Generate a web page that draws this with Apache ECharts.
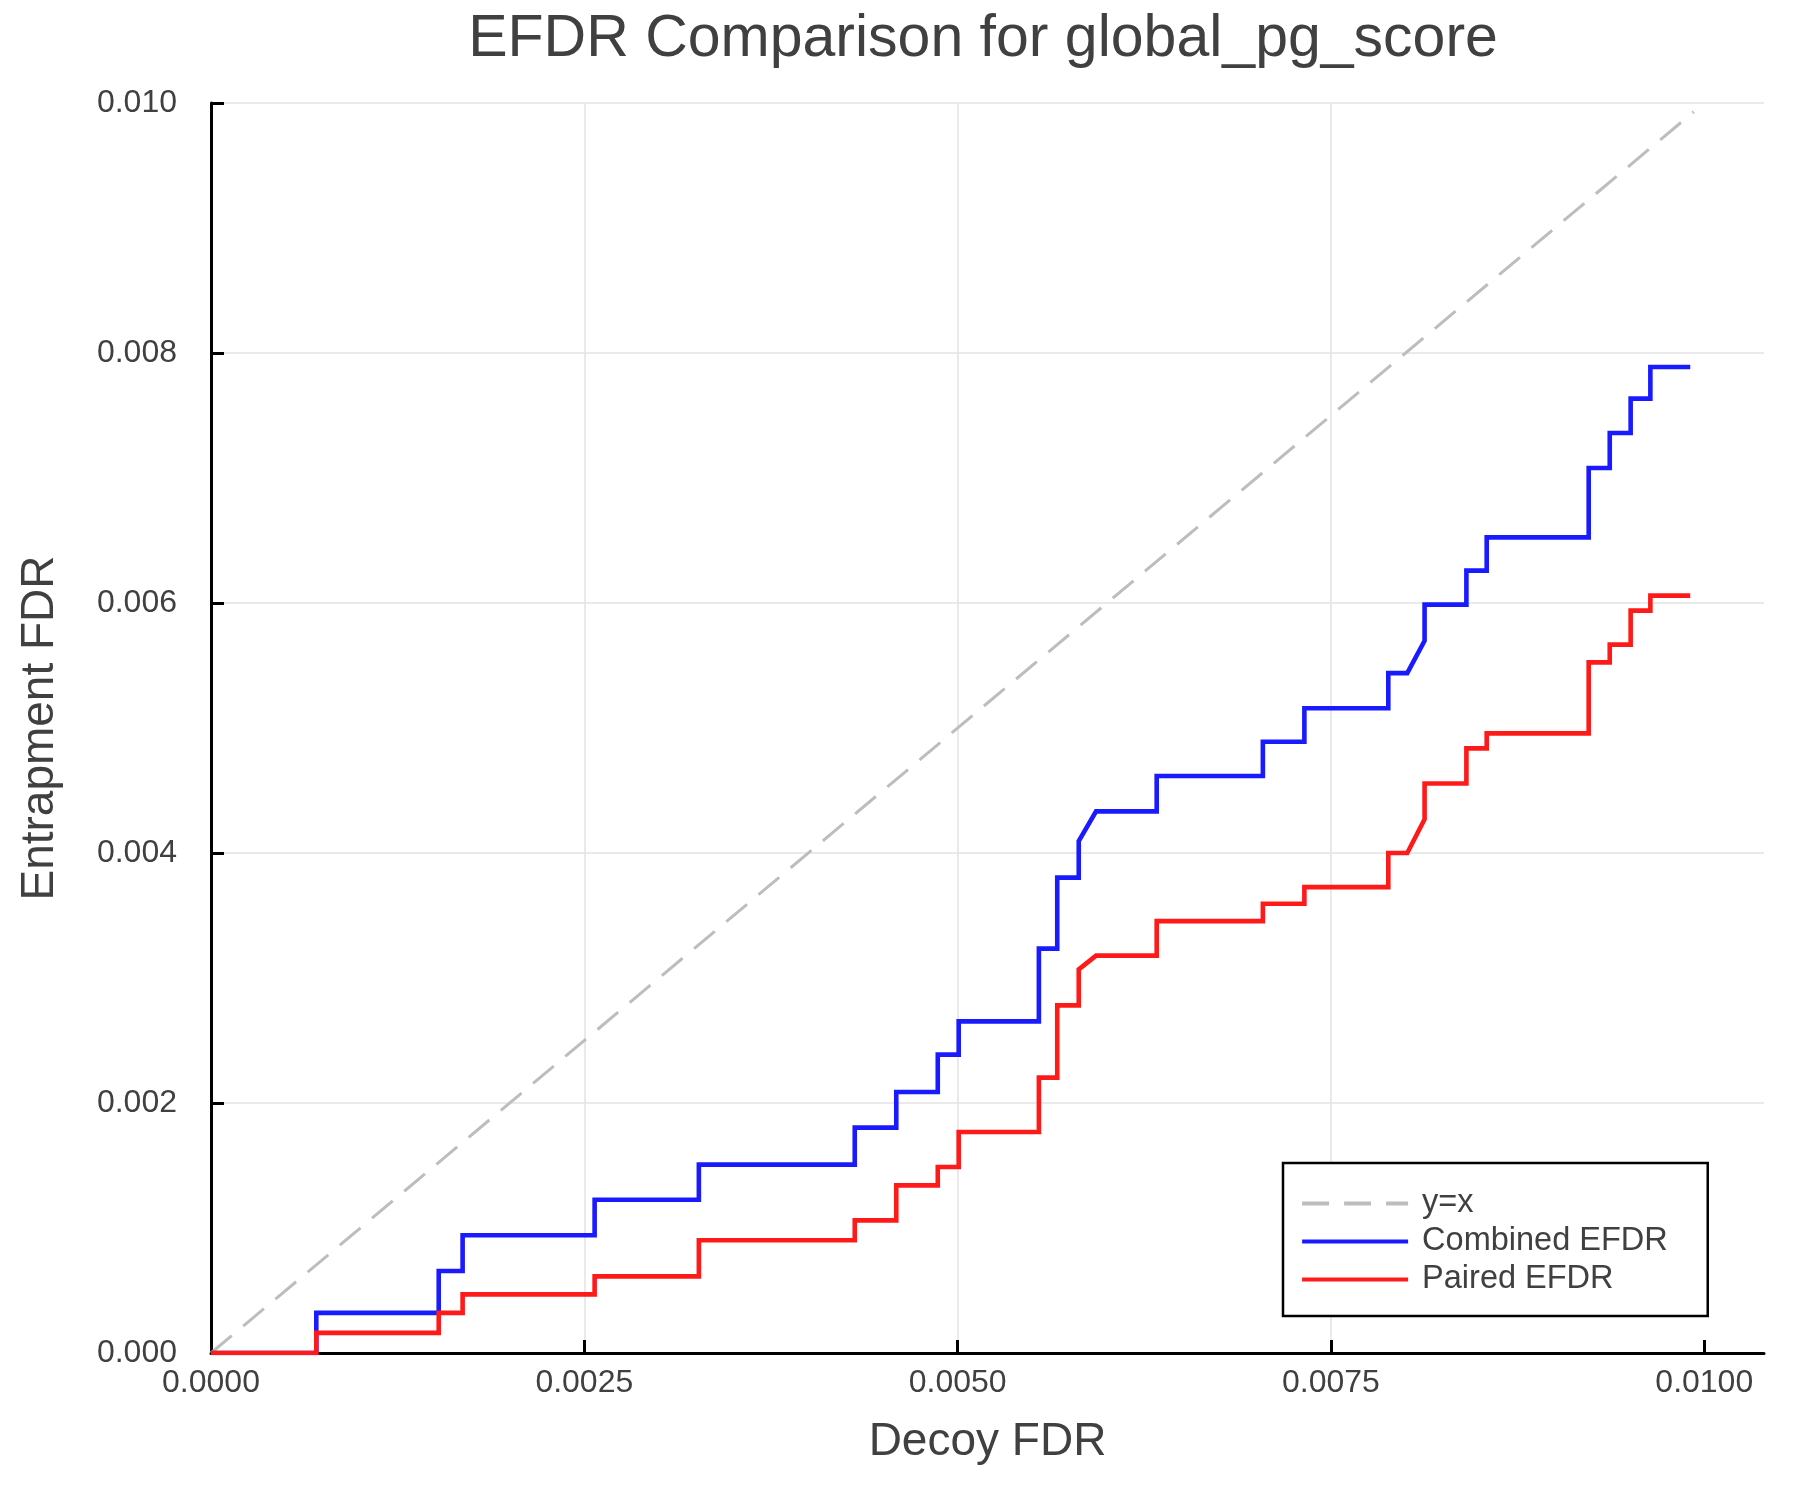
<!DOCTYPE html>
<html>
<head>
<meta charset="utf-8">
<script src="https://cdn.jsdelivr.net/npm/echarts@6/dist/echarts.min.js"></script>
<style>
html,body{margin:0;padding:0;background:#fff;}
#chart{width:1800px;height:1500px;}
</style>
</head>
<body>
<div id="chart"></div>
<script>
const titleText = 'EFDR Comparison for global_pg_score';
const xName = 'Decoy FDR';
const yName = 'Entrapment FDR';
const seriesNames = ['y=x', 'Combined EFDR', 'Paired EFDR'];

const decoyFdr = [0, 0.000705, 0.000705, 0.001525, 0.001525, 0.001685, 0.001685, 0.002569, 0.002569, 0.003267,
  0.003267, 0.004311, 0.004311, 0.004589, 0.004589, 0.004867, 0.004867, 0.005007, 0.005007, 0.005544,
  0.005544, 0.005667, 0.005667, 0.005811, 0.005811, 0.005927, 0.006333, 0.006333, 0.007044, 0.007044,
  0.007322, 0.007322, 0.007884, 0.007884, 0.008011, 0.008127, 0.008127, 0.008407, 0.008407, 0.008543,
  0.008543, 0.009226, 0.009226, 0.009367, 0.009367, 0.009507, 0.009507, 0.009639, 0.009639, 0.009906];

const combinedEfdr = [0, 0, 0.000321, 0.000321, 0.000656, 0.000656, 0.000942, 0.000942, 0.001226, 0.001226,
  0.001507, 0.001507, 0.001803, 0.001803, 0.002088, 0.002088, 0.002387, 0.002387, 0.002653, 0.002653,
  0.003235, 0.003235, 0.003803, 0.003803, 0.004096, 0.004333, 0.004333, 0.004616, 0.004616, 0.00489,
  0.00489, 0.005158, 0.005158, 0.005439, 0.005439, 0.005698, 0.005987, 0.005987, 0.006259, 0.006259,
  0.006525, 0.006525, 0.00708, 0.00708, 0.00736, 0.00736, 0.007635, 0.007635, 0.007888, 0.007888];

const pairedEfdr = [0, 0, 0.000161, 0.000161, 0.000321, 0.000321, 0.000469, 0.000469, 0.000613, 0.000613,
  0.000902, 0.000902, 0.001061, 0.001061, 0.001341, 0.001341, 0.001488, 0.001488, 0.001768, 0.001768,
  0.002203, 0.002203, 0.002781, 0.002781, 0.003069, 0.003179, 0.003179, 0.003455, 0.003455, 0.003594,
  0.003594, 0.003727, 0.003727, 0.004, 0.004, 0.00427, 0.004556, 0.004556, 0.004837, 0.004837,
  0.004957, 0.004957, 0.005525, 0.005525, 0.005667, 0.005667, 0.005939, 0.005939, 0.006059, 0.006059];

const refX = [0, 0.00993];
const refY = [0, 0.00993];

const xTicks = [0, 0.0025, 0.005, 0.0075, 0.01];

const zip = (a, b) => a.map((v, i) => [v, b[i]]);
const FONT = 'Liberation Sans, Arial, sans-serif';
const TXT = '#404040';

const chart = echarts.init(document.getElementById('chart'), null, {renderer: 'canvas'});
chart.setOption({
  backgroundColor: '#ffffff',
  animation: false,
  title: {
    text: titleText,
    left: 978, top: 5, textAlign: 'center',
    textStyle: {fontFamily: FONT, fontSize: 59, fontWeight: 'normal', color: TXT}
  },
  grid: {left: 211, top: 103, right: 36, bottom: 147, containLabel: false},
  legend: {
    orient: 'vertical',
    left: 1283, top: 1163,
    data: seriesNames,
    itemWidth: 106, itemHeight: 14, itemGap: 5,
    padding: [24, 40, 20, 17],
    borderColor: '#000', borderWidth: 2.5, backgroundColor: '#fff',
    itemStyle: {opacity: 0},
    lineStyle: {width: 4.2},
    textStyle: {fontFamily: FONT, fontSize: 32.5, color: TXT, lineHeight: 32, padding: [0,0,0,9]}
  },
  xAxis: {
    type: 'value', min: 0, max: 0.0104, interval: 0.0025,
    name: xName, nameLocation: 'middle', nameGap: 66,
    nameTextStyle: {fontFamily: FONT, fontSize: 46, color: TXT},
    axisLine: {show: true, lineStyle: {color: '#000', width: 3}},
    axisTick: {show: true, inside: true, length: 13, lineStyle: {color: '#000', width: 3}, customValues: xTicks},
    axisLabel: {fontFamily: FONT, fontSize: 32, color: TXT, margin: 14, customValues: xTicks,
      formatter: v => v.toFixed(4)},
    splitLine: {show: true, showMaxLine: false, lineStyle: {color: '#e3e3e3', width: 1.5}}
  },
  yAxis: {
    type: 'value', min: 0, max: 0.010, interval: 0.002,
    name: yName, nameLocation: 'middle', nameGap: 148,
    nameTextStyle: {fontFamily: FONT, fontSize: 46, color: TXT},
    axisLine: {show: true, lineStyle: {color: '#000', width: 3}},
    axisTick: {show: true, inside: true, length: 13, lineStyle: {color: '#000', width: 3}},
    axisLabel: {fontFamily: FONT, fontSize: 32, color: TXT, margin: 34, formatter: v => v.toFixed(3)},
    splitLine: {show: true, lineStyle: {color: '#e3e3e3', width: 1.5}}
  },
  series: [
    {
      name: seriesNames[0], type: 'line', data: zip(refX, refY), symbol: 'none',
      lineStyle: {color: '#bdbdbd', width: 3, type: [27, 15]}, itemStyle: {color: '#bdbdbd'}, z: 2
    },
    {
      name: seriesNames[1], type: 'line', data: zip(decoyFdr, combinedEfdr), symbol: 'none',
      lineStyle: {color: '#1a1aff', width: 4.6, join: 'miter'}, itemStyle: {color: '#1a1aff'}, z: 3
    },
    {
      name: seriesNames[2], type: 'line', data: zip(decoyFdr, pairedEfdr), symbol: 'none',
      lineStyle: {color: '#ff1a1a', width: 4.6, join: 'miter'}, itemStyle: {color: '#ff1a1a'}, z: 4
    }
  ]
});
</script>
</body>
</html>
